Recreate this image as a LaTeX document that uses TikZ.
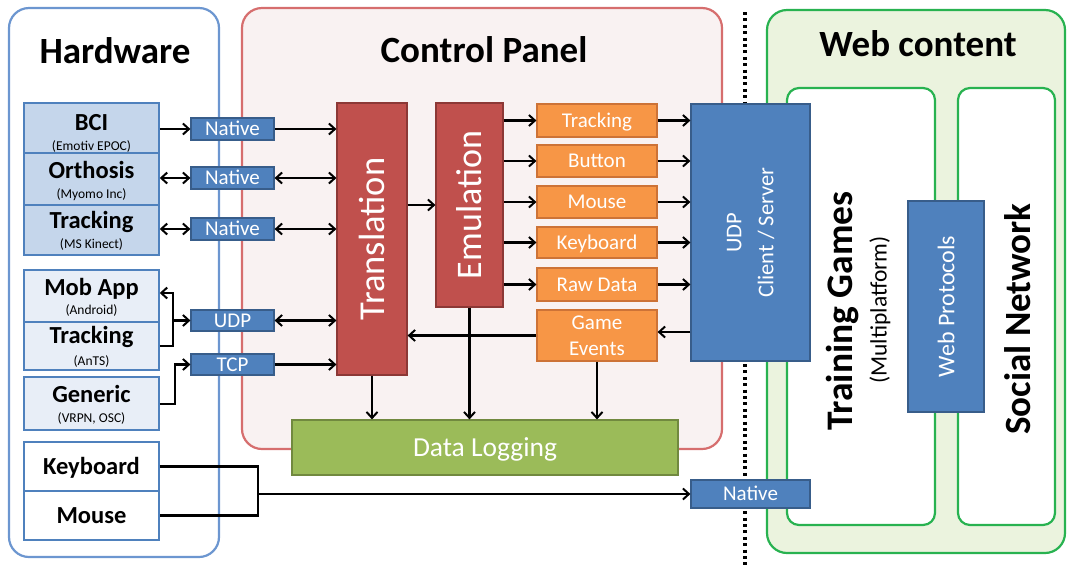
\documentclass[tikz,border=0pt]{standalone}
\usepackage{fontspec}
\setmainfont{Carlito}
\usetikzlibrary{arrows.meta,calc}
\definecolor{hwline}{RGB}{108,150,208}
\definecolor{cpfill}{RGB}{249,242,242}
\definecolor{cpline}{RGB}{214,110,110}
\definecolor{wcfill}{RGB}{235,243,222}
\definecolor{wcline}{RGB}{40,178,80}
\definecolor{bfill}{RGB}{79,129,189}
\definecolor{bline}{RGB}{56,93,138}
\definecolor{cellA}{RGB}{197,214,235}
\definecolor{cellB}{RGB}{232,238,247}
\definecolor{cellline}{RGB}{79,129,189}
\definecolor{rfill}{RGB}{192,80,77}
\definecolor{rline}{RGB}{140,56,54}
\definecolor{ofill}{RGB}{247,150,70}
\definecolor{oline}{RGB}{205,115,55}
\definecolor{gfill}{RGB}{155,187,89}
\definecolor{gline}{RGB}{113,137,63}
\tikzset{
  fs/.style={font=\fontsize{#1}{#1}\selectfont},
  fa/.style={font=\fontsize{21}{21}\selectfont, text height=13.5pt, text depth=0pt},
  fb/.style={font=\fontsize{27.5}{27.5}\selectfont, text height=17.7pt, text depth=0pt},
  panel/.style={line width=2.2pt, rounded corners=20pt},
  boxbase/.style={rectangle, draw, line width=1.2pt, inner sep=0pt},
  bluebox/.style={boxbase, fill=bfill, draw=bline, text=white},
  redbox/.style={boxbase, fill=rfill, draw=rline},
  orangebox/.style={boxbase, fill=ofill, draw=oline, text=white, fa, minimum width=120pt},
  greenbox/.style={boxbase, fill=gfill, draw=gline, text=white},
  cell/.style={rectangle, draw=cellline, line width=1.5pt, minimum width=135pt, inner sep=0pt},
  hwtitle/.style={anchor=base, font=\fontsize{24.5}{24.5}\selectfont\bfseries, inner sep=0pt},
  hwsub/.style={anchor=base, fs=13.5, inner sep=0pt},
  title/.style={anchor=base, font=\fontsize{37}{37}\selectfont\bfseries, inner sep=0pt},
  wtext/.style={text=white, inner sep=0pt},
  tip/.tip={Straight Barb[length=6pt,width=11pt,line width=2pt]},
  conn/.style={line width=2.2pt, draw=black},
  arr/.style={conn, -tip},
  darr/.style={conn, tip-tip},
}
\begin{document}
\begin{tikzpicture}[x=1pt,y=-1pt]
\useasboundingbox (0,0) rectangle (1067,566);
% panels
\draw[panel, draw=hwline, fill=white] (9,8) rectangle (219,557);
\draw[panel, draw=cpline, fill=cpfill] (242,8) rectangle (722,449);
\draw[panel, draw=wcline, fill=wcfill] (767,10) rectangle (1065,553);
\draw[line width=2.2pt, draw=wcline, fill=white, rounded corners=12pt] (787,88) rectangle (935,525);
\draw[line width=2.2pt, draw=wcline, fill=white, rounded corners=12pt] (958,88) rectangle (1055,525);
\draw[line width=3.2pt, dash pattern=on 3pt off 3.4pt] (745,12) -- (745,566);
% titles
\node[title] (thw) at (115,63) {Hardware};
\node[title] (tcp) at (484,62) {Control Panel};
\node[title] (twc) at (918,56) {Web content};
% hardware cells
\node[cell, fill=cellA, minimum height=50pt] (bci) at (91.5,128) {};
\node[cell, fill=cellA, minimum height=52pt] (orth) at (91.5,179) {};
\node[cell, fill=cellA, minimum height=50pt] (kin) at (91.5,230) {};
\node[hwtitle] (bcit) at (91.5,130) {BCI};
\node[hwsub] (bcis) at (91.5,150) {(Emotiv EPOC)};
\node[hwtitle] (ortht) at (91.5,178) {Orthosis};
\node[hwsub] (orths) at (91.5,198) {(Myomo Inc)};
\node[hwtitle] (kint) at (91.5,228) {Tracking};
\node[hwsub] (kins) at (91.5,248) {(MS Kinect)};
\node[cell, fill=cellB, minimum height=52pt] (mob) at (91.5,296) {};
\node[cell, fill=cellB, minimum height=48pt] (ants) at (91.5,346) {};
\node[cell, fill=cellB, minimum height=53pt] (gen) at (91.5,403.5) {};
\node[hwtitle] (mobt) at (91.5,295) {Mob App};
\node[hwsub] (mobs) at (91.5,314) {(Android)};
\node[hwtitle] (antst) at (91.5,343) {Tracking};
\node[hwsub] (antss) at (91.5,365) {(AnTS)};
\node[hwtitle] (gent) at (91.5,402) {Generic};
\node[hwsub] (gens) at (91.5,422) {(VRPN, OSC)};
\node[cell, fill=white, minimum height=49pt] (kb) at (91.5,466.5) {};
\node[cell, fill=white, minimum height=49pt] (ms) at (91.5,515.5) {};
\node[hwtitle] (kbt) at (91.5,474) {Keyboard};
\node[hwtitle] (mst) at (91.5,523) {Mouse};
% protocol boxes
\node[bluebox, fa, minimum width=83pt, minimum height=22pt] (nat1) at (232.5,129) {Native};
\node[bluebox, fa, minimum width=83pt, minimum height=22pt] (nat2) at (232.5,178) {Native};
\node[bluebox, fa, minimum width=83pt, minimum height=22pt] (nat3) at (232.5,229) {Native};
\node[bluebox, fa, minimum width=83pt, minimum height=21pt] (udp) at (232.5,320.5) {UDP};
\node[bluebox, fa, minimum width=83pt, minimum height=21pt] (tcp) at (232.5,364.5) {TCP};
% control panel
\node[redbox, minimum width=70pt, minimum height=272pt] (trans) at (372,239) {};
\node[wtext, rotate=90, fs=36.5] (transt) at (trans.center) {Translation};
\node[redbox, minimum width=67pt, minimum height=204pt] (emul) at (469.5,205) {};
\node[wtext, rotate=90, fs=36] (emult) at (emul.center) {Emulation};
\node[orangebox, minimum height=33pt] (o1) at (597,120.5) {Tracking};
\node[orangebox, minimum height=32pt] (o2) at (597,161) {Button};
\node[orangebox, minimum height=32pt] (o3) at (597,202) {Mouse};
\node[orangebox, minimum height=31pt] (o4) at (597,242.5) {Keyboard};
\node[orangebox, minimum height=33pt] (o5) at (597,284.5) {Raw Data};
\node[orangebox, minimum height=51pt, text height=, text depth=, align=center, font=\fontsize{21}{26}\selectfont] (ge) at (597,335.5) {Game\\Events};
\node[greenbox, fb, minimum width=386pt, minimum height=55pt] (dl) at (485,447.5) {Data Logging};
% web side
\node[bluebox, minimum width=119pt, minimum height=257pt] (udpcs) at (750.5,232.5) {};
\node[wtext, rotate=90, align=center, font=\fontsize{22.5}{32}\selectfont] (udpcst) at (udpcs.center) {UDP\\Client / Server};
\node[bluebox, fa, minimum width=119pt, minimum height=28pt] (nat4) at (750.5,494) {Native};
\node[bluebox, minimum width=76pt, minimum height=211pt] (webp) at (946,306.5) {};
\node[wtext, rotate=90, fs=24] (webpt) at (webp.center) {Web Protocols};
\node[rotate=90, font=\fontsize{37.5}{37.5}\selectfont\bfseries, inner sep=0pt] (tg) at (843,311) {Training Games};
\node[rotate=90, fs=23.5, inner sep=0pt] (tgs) at (880,310) {(Multiplatform)};
\node[rotate=90, font=\fontsize{37}{37}\selectfont\bfseries, inner sep=0pt] (sn) at (1018,319) {Social Network};
% connectors hardware -> protocols
\draw[arr] (bci.east |- nat1.west) -- (nat1.west);
\draw[darr] (orth.east |- nat2.west) -- (nat2.west);
\draw[darr] (kin.east |- nat3.west) -- (nat3.west);
\coordinate (j1) at (173,320.5);
\draw[arr] (j1) |- (mob.east |- 0,293);
\draw[conn] (ants.east) -| (j1);
\draw[arr] (j1) -- (udp.west);
\coordinate (j2) at (175,404);
\draw[arr] (gen.east |- j2) -- (j2) |- (tcp.west);
% protocols -> translation
\draw[arr] (nat1.east) -- (trans.west |- nat1.east);
\draw[darr] (nat2.east) -- (trans.west |- nat2.east);
\draw[darr] (nat3.east) -- (trans.west |- nat3.east);
\draw[darr] (udp.east) -- (trans.west |- udp.east);
\draw[arr] (tcp.east) -- (trans.west |- tcp.east);
% control panel internals
\draw[arr] (trans.east |- emul.west) -- (emul.west);
\foreach \o in {o1,o2,o3,o4,o5}{
  \draw[arr] (emul.east |- \o.west) -- (\o.west);
  \draw[arr] (\o.east) -- (udpcs.west |- \o.east);
}
\draw[arr] (udpcs.west |- 0,332) -- (ge.east |- 0,332);
\draw[arr] (ge.west) -- (trans.east |- ge.west);
\draw[arr] (trans.south) -- (trans.south |- dl.north);
\draw[arr] (emul.south) -- (emul.south |- dl.north);
\draw[arr] (ge.south) -- (ge.south |- dl.north);
% keyboard / mouse
\coordinate (j3) at (258,494);
\draw[conn] (kb.east) -| (j3) |- (ms.east);
\draw[arr] (j3) -- (nat4.west);
\end{tikzpicture}
\end{document}
